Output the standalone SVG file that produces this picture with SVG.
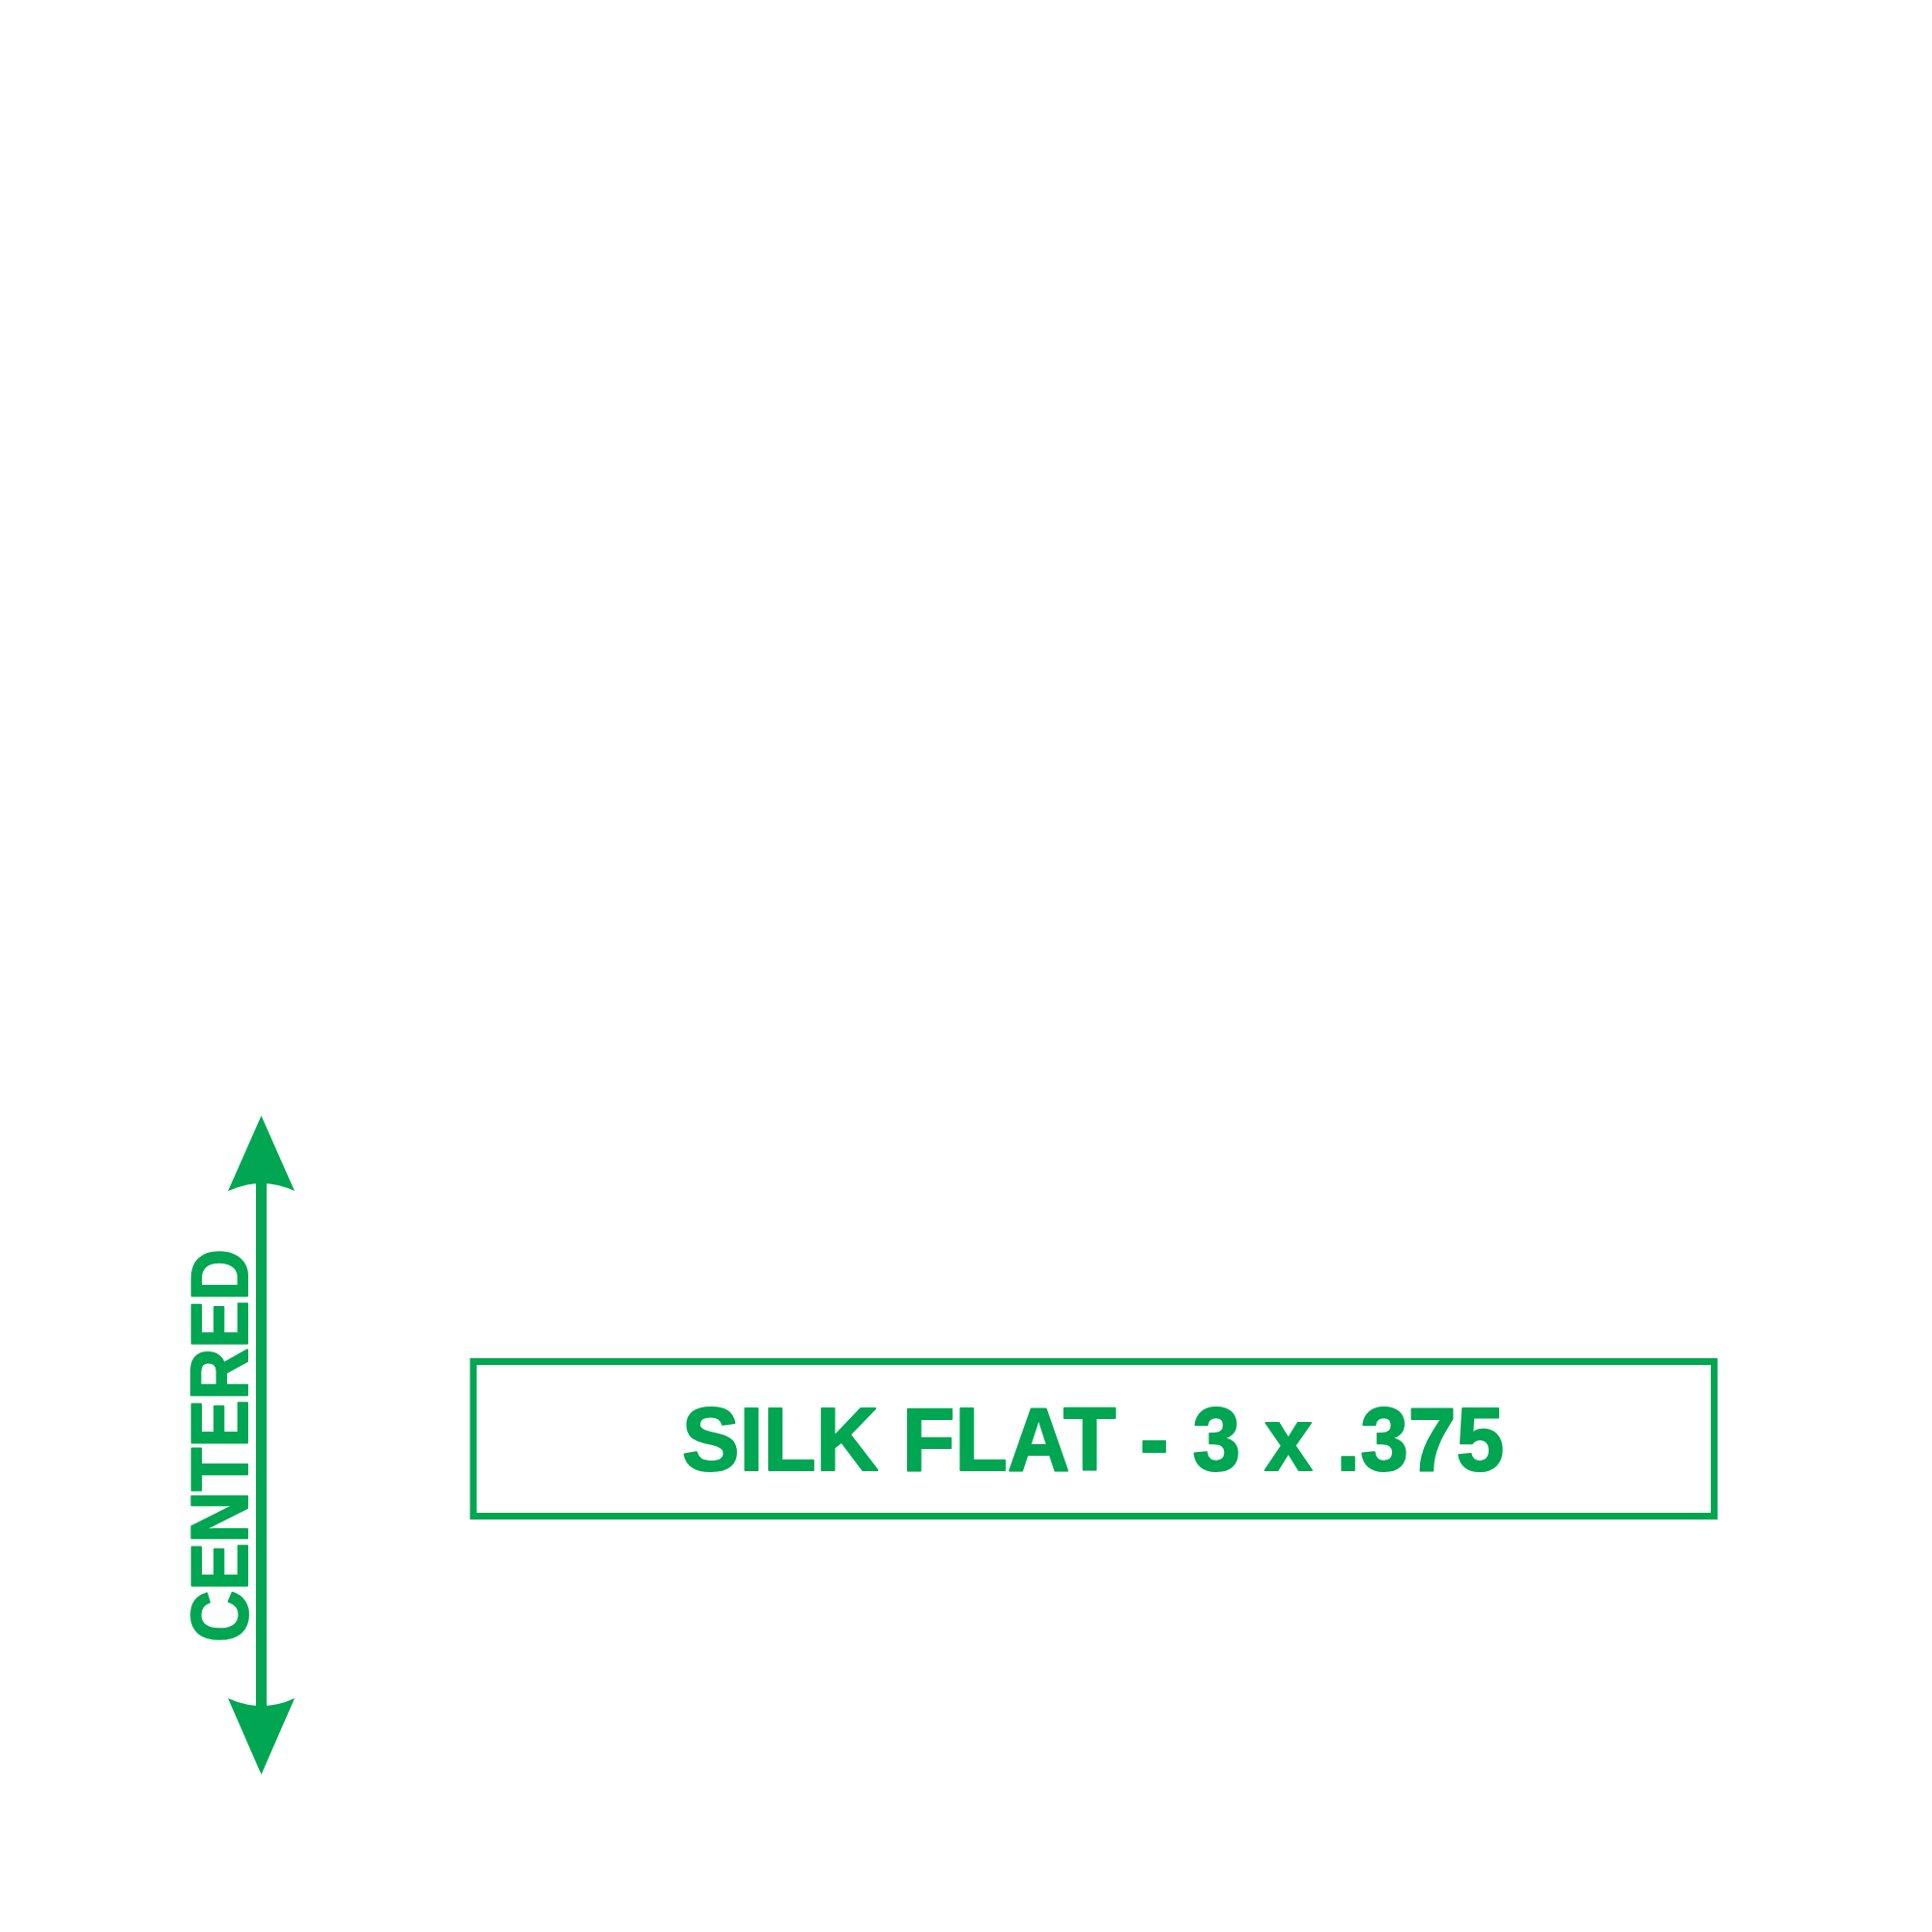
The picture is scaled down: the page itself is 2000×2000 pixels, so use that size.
<svg xmlns="http://www.w3.org/2000/svg" width="2000" height="2000" viewBox="0 0 2000 2000">
<style>
.g{fill:#00A651}
.lbl{font-family:"Liberation Sans",Arial,sans-serif;font-weight:bold;fill:#00A651;stroke:#00A651;stroke-width:2;stroke-linejoin:round}
</style>
<rect width="2000" height="2000" fill="#fff"/>
<g id="connectors">
<rect class="g" x="265" y="1222" width="11" height="546"/>
<path class="g" d="M270.5 1155 L305 1233 Q288 1225 270.5 1225 Q253 1225 236 1233 Z"/>
<path class="g" d="M270.5 1837 L305 1758 Q288 1766 270.5 1766 Q253 1766 236 1758 Z"/>
<text class="lbl" transform="translate(256 1496.5) rotate(-90)" x="0" y="0" font-size="83" text-anchor="middle" textLength="407" lengthAdjust="spacingAndGlyphs">CENTERED</text>
</g>
<g id="node-silk">
<rect x="490" y="1409.5" width="1284.5" height="160" fill="none" stroke="#00A651" stroke-width="7"/>
<text class="lbl" x="1131.5" y="1522" font-size="93" text-anchor="middle" textLength="851" lengthAdjust="spacingAndGlyphs">SILK FLAT - 3 x .375</text>
</g>
</svg>
